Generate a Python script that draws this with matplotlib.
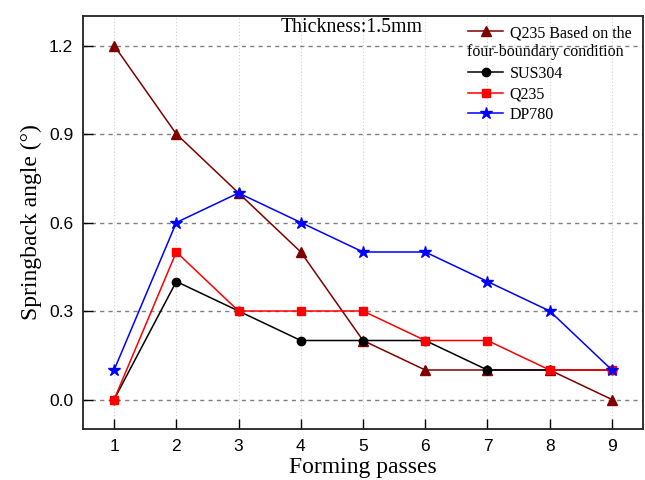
import matplotlib
matplotlib.use("Agg")
import matplotlib.pyplot as plt
from matplotlib.lines import Line2D

passes = [1, 2, 3, 4, 5, 6, 7, 8, 9]
q235_four = [1.2, 0.9, 0.7, 0.5, 0.2, 0.1, 0.1, 0.1, 0.0]
sus304 = [0.0, 0.4, 0.3, 0.2, 0.2, 0.2, 0.1, 0.1, 0.1]
q235 = [0.0, 0.5, 0.3, 0.3, 0.3, 0.2, 0.2, 0.1, 0.1]
dp780 = [0.1, 0.6, 0.7, 0.6, 0.5, 0.5, 0.4, 0.3, 0.1]
yticks = [0.0, 0.3, 0.6, 0.9, 1.2]

serif = ["Liberation Serif", "DejaVu Serif"]
sans = ["Liberation Sans", "DejaVu Sans"]

fig = plt.figure(figsize=(6.45, 4.8), dpi=100)
ax = fig.add_axes([83/645, 1-429/480, (643-83)/645, (429-16)/480])

ax.set_xlim(0.5, 9.5)
ax.set_ylim(-0.1, 1.3)

for x in passes:
    ax.axvline(x, color="#d0d0d0", lw=0.8, ls=(0, (1, 2)), zorder=0)
for y in yticks:
    ax.axhline(y, color="#808080", lw=1.0, ls=(0, (3, 3)), zorder=0)

ax.plot(passes, sus304, color="black", marker="o", ms=6, lw=1.1, zorder=3)
ax.plot(passes, q235, color="#ff0000", marker="s", ms=6, lw=1.1, zorder=4)
ax.plot(passes, dp780, color="#0000ff", marker="*", ms=9, lw=1.1, zorder=5)
ax.plot(passes, q235_four, color="#800000", marker="^", ms=7, lw=1.1, zorder=2)

ax.set_xticks(passes)
ax.set_yticks(yticks)
ax.set_yticklabels([f"{v:.1f}" for v in yticks])
ax.tick_params(direction="in", length=7, width=1.0, labelsize=12.5, pad=7)
for lab in ax.get_xticklabels() + ax.get_yticklabels():
    lab.set_family(sans)
for s in ax.spines.values():
    s.set_linewidth(1.3)
    s.set_color("#222222")

ax.set_xlabel("Forming passes", family=serif, fontsize=17, labelpad=2)
ax.set_ylabel("Springback angle (°)", family=serif, fontsize=17, labelpad=5)

fig.text(352/645, 1 - 28/480, "Thickness:1.5mm", family=serif, fontsize=14.3,
         ha="center", va="center")

handles = [
    Line2D([], [], color="#800000", marker="^", ms=7, lw=1.1),
    Line2D([], [], color="none"),
    Line2D([], [], color="black", marker="o", ms=6, lw=1.1),
    Line2D([], [], color="#ff0000", marker="s", ms=6, lw=1.1),
    Line2D([], [], color="#0000ff", marker="*", ms=9, lw=1.1),
]
labels = ["Q235 Based on the", " ", "SUS304", "Q235", "DP780"]
leg = ax.legend(handles, labels, loc="upper left",
                bbox_to_anchor=((468-83)/560, 1 - 9/413),
                frameon=False, prop={"family": serif, "size": 11.5},
                handlelength=2.2, handletextpad=0.4, labelspacing=0.28,
                borderpad=0, borderaxespad=0)
fig.text(467/645, 1-52/480, "four-boundary condition", family=serif,
         fontsize=11.5, ha="left", va="center")

fig.savefig("out.png", dpi=100)
